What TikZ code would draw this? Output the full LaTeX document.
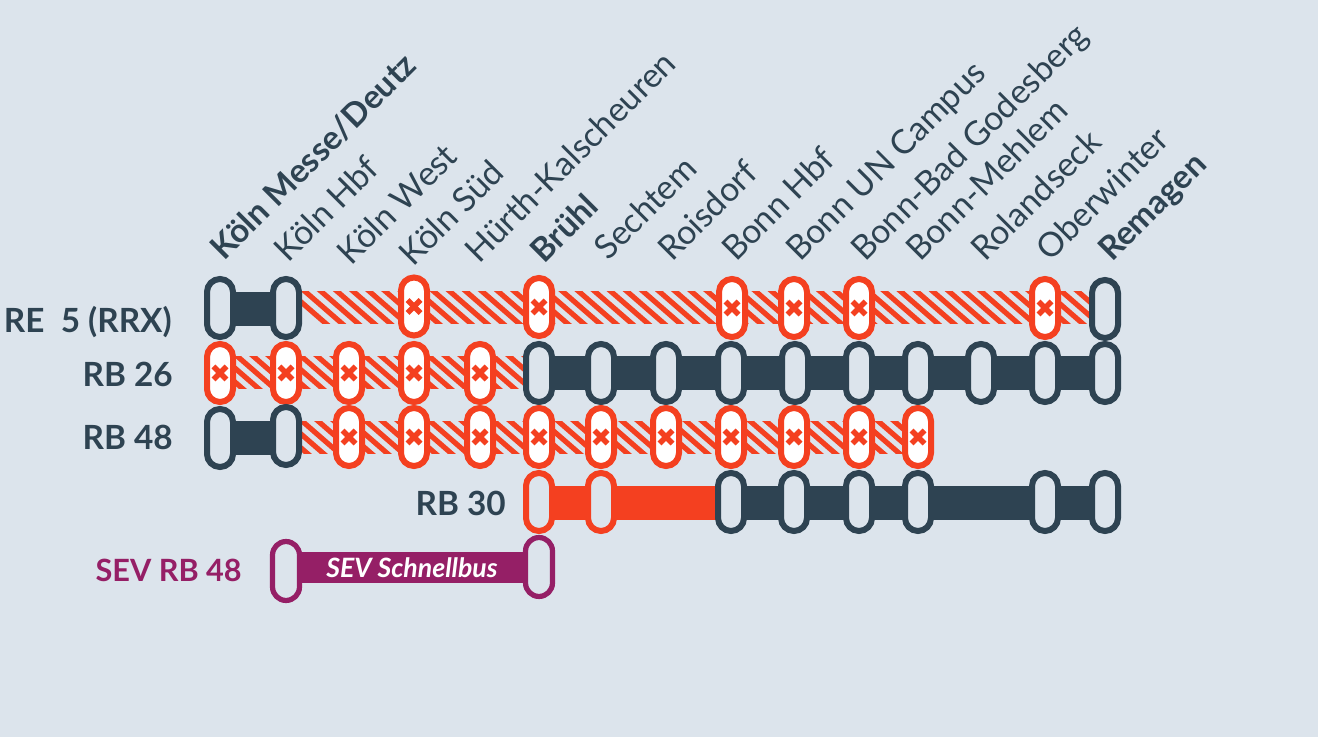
\documentclass[tikz,border=0pt]{standalone}
\usepackage{fontspec}
\setmainfont{Lato}
\usetikzlibrary{backgrounds}
\definecolor{paper}{HTML}{DCE4EC}
\definecolor{slate}{HTML}{2E4352}
\definecolor{alert}{HTML}{F44020}
\definecolor{sev}{HTML}{951F66}
\tikzset{
  stop/.style={draw=#1, fill=paper, line width=4.5pt, rounded corners=9.75pt, inner sep=0pt,
    minimum width=19.5pt, minimum height=43.5pt},
  stop/.default=slate,
  closed/.style={stop=alert, fill=white, path picture={
    \draw[alert, line width=4pt] ([shift={(-6.5,-6.5)}]path picture bounding box.center) -- ([shift={(6.5,6.5)}]path picture bounding box.center);
    \draw[alert, line width=4pt] ([shift={(-6.5,6.5)}]path picture bounding box.center) -- ([shift={(6.5,-6.5)}]path picture bounding box.center);}},
  sevstop/.style={stop=sev, line width=3.9pt, minimum width=20.2pt, minimum height=44.2pt, rounded corners=10.1pt},
  bar/.style={line width=25.5pt, draw=#1},
  stripe/.style={alert, line width=3.9pt},
  station/.style={text=slate, font=\fontsize{25.3}{25.3}\selectfont, rotate=45, anchor=base west, inner sep=0pt},
  main station/.style={station, font=\fontsize{24.8}{24.8}\selectfont\bfseries},
  line name/.style={text=slate, font=\fontsize{25}{25}\selectfont\bfseries, anchor=base east, inner sep=0pt}
}
\newcommand{\hatchbar}[6]{
  \begin{scope}
    \clip (#1 |- 0,#3) rectangle (#2 |- 0,#3+32);
    \foreach \s in {#4,#5,...,#6}
      \draw[stripe] (\s-5,#3-4) -- ++(46,40);
  \end{scope}
}
\begin{document}
\begin{tikzpicture}[x=0.75pt, y=-0.75pt]
  \useasboundingbox (0,0) rectangle (1318,737);

  \node[main station] (s1) at (224,262) {Köln Messe/Deutz};
  \node[station] (s2) at (288,264) {Köln Hbf};
  \node[station] (s3) at (351,267) {Köln West};
  \node[station] (s4) at (413,268) {Köln Süd};
  \node[station] (s5) at (479,265) {Hürth-Kalscheuren};
  \node[main station] (s6) at (544,265) {Brühl};
  \node[station] (s7) at (608,262) {Sechtem};
  \node[station] (s8) at (672,263) {Roisdorf};
  \node[station] (s9) at (736,263) {Bonn Hbf};
  \node[station] (s10) at (800,263) {Bonn UN Campus};
  \node[station] (s11) at (865,263) {Bonn-Bad Godesberg};
  \node[station] (s12) at (920,263) {Bonn-Mehlem};
  \node[station] (s13) at (985,263) {Rolandseck};
  \node[station] (s14) at (1050,263) {Oberwinter};
  \node[main station] (s15) at (1112,263) {Remagen};

  \node[line name] (l1) at (172,333) {RE\ \ 5 (RRX)};
  \node[line name] (l2) at (173,387) {RB 26};
  \node[line name] (l3) at (173,450) {RB 48};
  \node[line name] (l4) at (506,516) {RB 30};
  \node[line name, text=sev, font=\fontsize{23}{23}\selectfont\bfseries] (l5) at (242,582) {SEV RB 48};

  \node[stop] (a1) at (220,308) {};
  \node[stop] (a2) at (286,308) {};
  \node[closed] (a3) at (414,306.5) {};
  \node[closed] (a4) at (539,307) {};
  \node[closed] (a5) at (732,308) {};
  \node[closed] (a6) at (794,308) {};
  \node[closed] (a7) at (859,308) {};
  \node[closed] (a8) at (1045,308) {};
  \node[stop] (a9) at (1105,309) {};

  \foreach \id/\x in {1/220,2/286,3/349,4/414,5/480}
    \node[closed] (b\id) at (\x,373) {};
  \foreach \id/\x in {6/539,7/601,8/666,9/731,10/795,11/859,12/918,13/981,14/1045,15/1105}
    \node[stop] (b\id) at (\x,373) {};

  \node[stop] (c1) at (220,438) {};
  \node[stop] (c2) at (286,436) {};
  \foreach \id/\x in {3/349,4/414,5/480,6/539,7/601,8/666,9/731,10/794,11/859,12/918}
    \node[closed] (c\id) at (\x,437) {};

  \node[stop=alert] (d1) at (539,502) {};
  \node[stop=alert] (d2) at (601,502) {};
  \foreach \id/\x in {3/731,4/794,5/859,6/918,7/1045,8/1105}
    \node[stop] (d\id) at (\x,502) {};

  \node[sevstop] (e1) at (286,571) {};
  \node[sevstop] (e2) at (539,567) {};

  \coordinate (ya) at (0,309);
  \coordinate (yc) at (0,438);
  \coordinate (yd) at (0,503);
  \coordinate (ye) at (0,567.5);

  \begin{pgfonlayer}{background}
    \fill[paper] (0,0) rectangle (1318,737);
    \hatchbar{a2}{a9}{292}{290}{306.1}{1090}
    \hatchbar{b1}{b6}{356.5}{190}{206}{530}
    \hatchbar{c2}{c12}{421.5}{271}{287}{930}
    \draw[bar=slate] (a1 |- ya) -- (a2 |- ya);
    \draw[bar=slate] (c1 |- yc) -- (c2 |- yc);
    \draw[bar=slate] (b6) -- (b15);
    \draw[bar=alert] (d1 |- yd) -- (d3 |- yd);
    \draw[bar=slate] (d3 |- yd) -- (d8 |- yd);
    \draw[bar=sev, line width=23pt] (e1 |- ye) -- (e2 |- ye);
  \end{pgfonlayer}
  \node[text=white, inner sep=0pt, font=\fontsize{20}{20}\selectfont\bfseries\itshape] (sevtext) at (412,568) {SEV Schnellbus};
\end{tikzpicture}
\end{document}
